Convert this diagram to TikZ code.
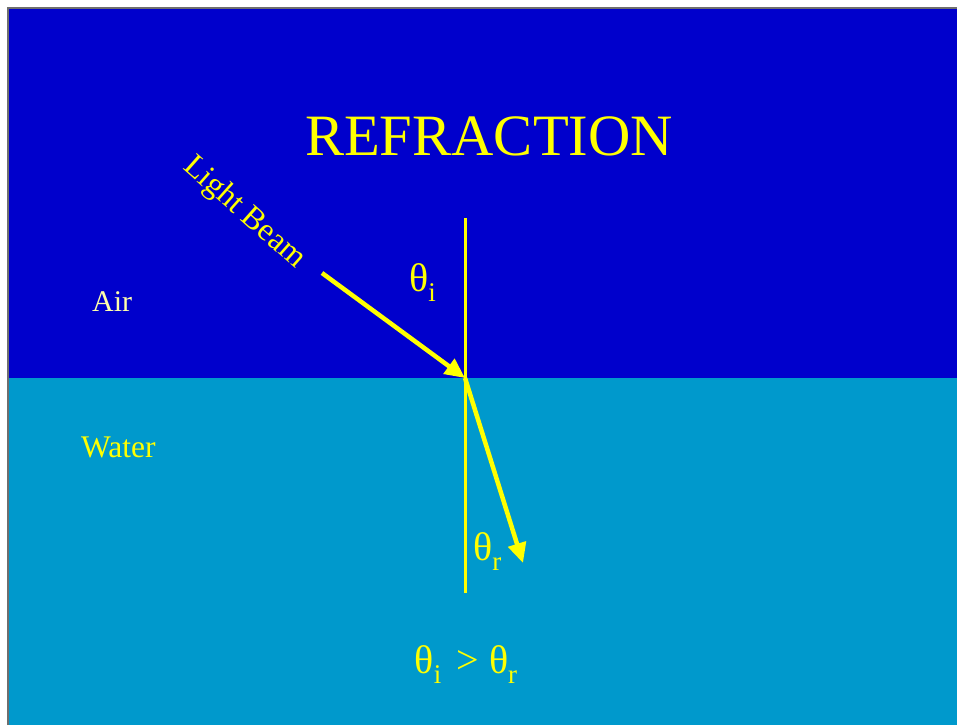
\documentclass[tikz,border=0pt]{standalone}
\usepackage{fontspec}
\setmainfont{Liberation Serif}
\usetikzlibrary{arrows.meta}
\definecolor{airblue}{RGB}{0,0,204}
\definecolor{waterblue}{RGB}{0,153,204}
\definecolor{ylw}{RGB}{255,255,0}
\definecolor{pale}{RGB}{255,255,170}
\definecolor{edgegray}{RGB}{110,110,110}
\tikzset{
  lbl/.style={text=ylw, inner sep=0pt, font=\fontsize{30}{36}\selectfont},
  ray/.style={draw=ylw, line width=4.5pt, -{Triangle[length=20pt,width=18pt]}},
  normalline/.style={draw=ylw, line width=3pt},
}
\newcommand{\thetasub}[1]{{\fontsize{40}{48}\selectfont θ\raisebox{-10pt}{\fontsize{27}{32}\selectfont #1}}}
\begin{document}
\begin{tikzpicture}[x=1pt,y=-1pt]
\useasboundingbox (0,0) rectangle (957,725);
\fill[white] (0,0) rectangle (957,725);
\fill[airblue] (8,8) rectangle (957,378);
\fill[waterblue] (8,378) rectangle (957,725);
\draw[edgegray, line width=1.2pt] (8,725) -- (8,8) -- (957,8);

\node[lbl, font=\fontsize{58.6}{66}\selectfont, anchor=base] (title) at (489,155) {REFRACTION};
\node[lbl, font=\fontsize{32}{38}\selectfont, rotate=-41.5, anchor=center] (beam) at (244,213) {Light Beam};
\node[lbl, text=pale, anchor=base west] (air) at (92,311) {Air};
\node[lbl, font=\fontsize{31.5}{38}\selectfont, anchor=base west] (water) at (81,457) {Water};

\coordinate (ntop) at (465,218);
\coordinate (nbot) at (465,593);
\coordinate (hit) at (465,378);
\coordinate (src) at (322,273);
\coordinate (dst) at (523,563);
\draw[normalline] (ntop) -- (nbot);
\draw[ray] (src) -- (hit);
\draw[ray] (hit) -- (dst);

\node[lbl, anchor=base west] (thi) at (409,291) {\thetasub{i}};
\node[lbl, anchor=base west] (thr) at (473,560) {\thetasub{r}};
\node[lbl, anchor=base] (rel) at (466,673) {\thetasub{i}\,{\fontsize{40}{48}\selectfont\ >\ }\thetasub{r}};
\end{tikzpicture}
\end{document}
